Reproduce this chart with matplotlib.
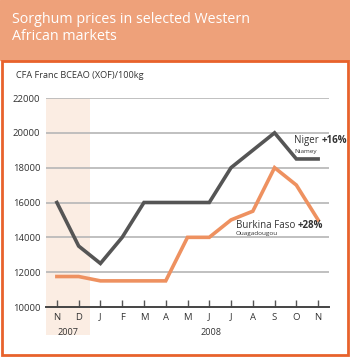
import matplotlib.pyplot as plt
from matplotlib.patches import Rectangle

# dados
months = ["N", "D", "J", "F", "M", "A", "M", "J", "J", "A", "S", "O", "N"]
niger = [16000, 13500, 12500, 14000, 16000, 16000, 16000, 16000, 18000, 19000, 20000, 18500, 18500]
burkina = [11750, 11750, 11500, 11500, 11500, 11500, 14000, 14000, 15000, 15500, 18000, 17000, 15000]
yticks = [10000, 12000, 14000, 16000, 18000, 20000, 22000]

W, H = 350, 357
fig = plt.figure(figsize=(W / 100, H / 100), dpi=100)
plt.rcParams["font.family"] = ["Open Sans", "DejaVu Sans"]

def fx(px):
    return px / W

def fy(py):
    return 1 - py / H

# cabecalho e moldura
fig.patches.append(Rectangle((0, fy(60)), 1, 60 / H, transform=fig.transFigure,
                             color="#EEA17A", zorder=0))
fig.patches.append(Rectangle((fx(1.5), fy(355)), fx(346), (355 - 61) / H,
                             transform=fig.transFigure, fill=False,
                             edgecolor="#E8622C", linewidth=2, zorder=1))
fig.text(fx(12), fy(12), "Sorghum prices in selected Western\nAfrican markets",
         color="white", fontsize=10.3, va="top", ha="left", linespacing=1.2)
fig.text(fx(16), fy(75), "CFA Franc BCEAO (XOF)/100kg", fontsize=6.6,
         color="#333333", va="center", ha="left")

ax = fig.add_axes([fx(46), fy(307), fx(329 - 46), (307 - 98) / H])
x = list(range(len(months)))
ax.set_xlim(-0.5, 12.5)
ax.set_ylim(10000, 22000)

# sombreado 2007
ax.add_patch(Rectangle((-0.5, 8400), 2, 22000 - 8400, color="#FBEDE3",
                       zorder=0, clip_on=False, linewidth=0))

for t in yticks[1:]:
    ax.axhline(t, color="#BBBBBB", linewidth=1.3, zorder=1)

ax.plot(x, niger, color="#555555", linewidth=2.6, zorder=3, solid_joinstyle="miter")
ax.plot(x, burkina, color="#EE9160", linewidth=2.6, zorder=3, solid_joinstyle="miter")

for s in ["top", "right", "left"]:
    ax.spines[s].set_visible(False)
ax.spines["bottom"].set_color("#444444")
ax.spines["bottom"].set_linewidth(1.4)
ax.spines["bottom"].set_zorder(4)

ax.set_yticks(yticks)
ax.set_yticklabels([str(v) for v in yticks], fontsize=6.8, color="#333333")
ax.tick_params(axis="y", length=0, pad=4)
ax.set_xticks(x)
ax.set_xticklabels(months, fontsize=6.8, color="#333333")
ax.tick_params(axis="x", direction="in", length=5, width=1, color="#555555", pad=4)

ax.text(0.5, -0.10, "2007", transform=ax.get_xaxis_transform(), ha="center",
        va="top", fontsize=6.6, color="#333333")
ax.text(7.1, -0.10, "2008", transform=ax.get_xaxis_transform(), ha="center",
        va="top", fontsize=6.6, color="#333333")

# rotulos das series
ax.text(10.9, 19550, "Niger ", fontsize=7.0, color="#333333", ha="left", va="center")
ax.annotate("+16%", xy=(1, 0.5), xycoords=ax.texts[-1], fontsize=7.0,
            fontweight="bold", color="#333333", va="center", ha="left")
ax.text(10.9, 18950, "Niamey", fontsize=4.6, color="#333333", ha="left", va="center")
ax.text(8.23, 14700, "Burkina Faso ", fontsize=7.0, color="#333333", ha="left", va="center")
ax.annotate("+28%", xy=(1, 0.5), xycoords=ax.texts[-1], fontsize=7.0,
            fontweight="bold", color="#333333", va="center", ha="left")
ax.text(8.23, 14200, "Ouagadougou", fontsize=4.6, color="#333333", ha="left", va="center")

plt.savefig("out.png", dpi=100)
